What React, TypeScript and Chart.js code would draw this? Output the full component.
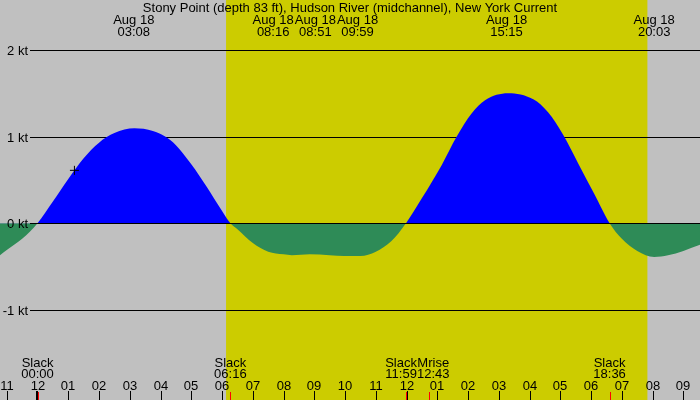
import React, { useEffect, useRef } from "react";
import { Chart, registerables } from "chart.js";

Chart.register(...registerables);

const title = "Stony Point (depth 83 ft), Hudson River (midchannel), New York Current";

// hours from midnight, Aug 18
const hours = [-1.22, -1.0, -0.5, 0, 0.5, 1.0, 1.5, 2.0, 2.5, 3.15, 3.75, 4.15, 4.5, 5.0, 5.5, 6.0, 6.27, 6.5, 7.0, 7.5, 8.0, 8.27, 8.85, 9.5, 9.98, 10.5, 11.0, 11.5, 11.98, 12.5, 13.14, 13.63, 14.12, 14.55, 15.3, 16.12, 16.6, 17.09, 17.58, 18.1, 18.6, 19.0, 19.5, 20.05, 20.5, 21.0, 21.54];
const knots = [-0.37, -0.31, -0.18, 0, 0.25, 0.51, 0.75, 0.93, 1.04, 1.095, 1.065, 1.0, 0.9, 0.68, 0.42, 0.14, 0, -0.07, -0.23, -0.33, -0.36, -0.37, -0.36, -0.37, -0.38, -0.38, -0.33, -0.21, 0, 0.29, 0.67, 1.0, 1.27, 1.42, 1.5, 1.43, 1.28, 1.02, 0.69, 0.34, 0, -0.18, -0.32, -0.39, -0.37, -0.32, -0.25];

const daylight = [6.13, 19.83];

const tickHours = [-1, 0, 1, 2, 3, 4, 5, 6, 7, 8, 9, 10, 11, 12, 13, 14, 15, 16, 17, 18, 19, 20, 21];
const tickLabels = ["11", "12", "01", "02", "03", "04", "05", "06", "07", "08", "09", "10", "11", "12", "01", "02", "03", "04", "05", "06", "07", "08", "09"];

const levelValues = [2, 1, 0, -1];
const levelLabels = ["2 kt", "1 kt", "0 kt", "-1 kt"];

// max flood / ebb labels along the top
const peakHours = [3.13, 8.27, 8.85, 9.98, 15.25, 20.05];
const peakDates = ["Aug 18", "Aug 18", "Aug 18", "Aug 18", "Aug 18", "Aug 18"];
const peakClock = ["03:08", "08:16", "08:51", "09:59", "15:15", "20:03"];

// slack and moonrise along the bottom
const eventHours = [0, 6.27, 11.98, 12.72, 18.6];
const eventNames = ["Slack", "Slack", "Slack", "Mrise", "Slack"];
const eventClock = ["00:00", "06:16", "11:59", "12:43", "18:36"];

const nowHour = [1.2];
const nowKnots = [0.61];

const FONT = "13px 'Liberation Sans', Arial, sans-serif";

// push overlapping labels apart, keeping each cluster centred on its times
function spread(centers: number[], widths: number[], gap: number) {
  const order = centers.map((_, i) => i).sort((a, b) => centers[a] - centers[b]);
  const groups = order.map((i) => [i]);
  const bounds = (g: number[]) => {
    const w = g.reduce((s, i) => s + widths[i] + gap, 0);
    const mid = g.reduce((s, i) => s + centers[i], 0) / g.length;
    return { left: mid - w / 2, right: mid + w / 2 };
  };
  let merged = true;
  while (merged) {
    merged = false;
    for (let k = 0; k < groups.length - 1; k++) {
      if (bounds(groups[k]).right > bounds(groups[k + 1]).left) {
        groups.splice(k, 2, groups[k].concat(groups[k + 1]));
        merged = true;
        break;
      }
    }
  }
  const out: number[] = new Array(centers.length);
  groups.forEach((g) => {
    let pos = bounds(g).left;
    g.forEach((i) => {
      out[i] = pos + (widths[i] + gap) / 2;
      pos += widths[i] + gap;
    });
  });
  return out;
}

const tidePlugin = {
  id: "tide",
  beforeDatasetsDraw(chart: any) {
    const { ctx, width, height } = chart;
    const x = chart.scales.x;
    const y = chart.scales.y;
    ctx.save();
    ctx.fillStyle = "#c0c0c0";
    ctx.fillRect(0, 0, width, height);
    const d0 = x.getPixelForValue(daylight[0]);
    const d1 = x.getPixelForValue(daylight[1]);
    ctx.fillStyle = "#cccc00";
    ctx.fillRect(d0, 0, d1 - d0, height);
    ctx.strokeStyle = "#000";
    ctx.lineWidth = 1;
    levelValues.forEach((v) => {
      if (v === 0) return;
      const py = Math.round(y.getPixelForValue(v)) + 0.5;
      ctx.beginPath();
      ctx.moveTo(30, py);
      ctx.lineTo(width, py);
      ctx.stroke();
    });
    ctx.restore();
  },
  afterDatasetsDraw(chart: any) {
    const { ctx, width, height } = chart;
    const x = chart.scales.x;
    const y = chart.scales.y;
    ctx.save();
    ctx.strokeStyle = "#000";
    ctx.lineWidth = 1;
    const zy = Math.round(y.getPixelForValue(0)) + 0.5;
    ctx.beginPath();
    ctx.moveTo(30, zy);
    ctx.lineTo(width, zy);
    ctx.stroke();

    ctx.font = FONT;
    ctx.fillStyle = "#000";
    ctx.textAlign = "right";
    ctx.textBaseline = "alphabetic";
    levelValues.forEach((v, i) => {
      ctx.fillText(levelLabels[i], 28, Math.round(y.getPixelForValue(v)) + 5);
    });

    ctx.textAlign = "center";
    ctx.fillText(title, width / 2, 12);

    const peakW = peakHours.map((_, i) => Math.max(ctx.measureText(peakDates[i]).width, ctx.measureText(peakClock[i]).width));
    const peakX = spread(peakHours.map((h) => x.getPixelForValue(h)), peakW, 1);
    peakHours.forEach((_, i) => {
      ctx.fillText(peakDates[i], peakX[i], 24);
      ctx.fillText(peakClock[i], peakX[i], 36);
    });

    const eventW = eventHours.map((_, i) => Math.max(ctx.measureText(eventNames[i]).width, ctx.measureText(eventClock[i]).width));
    const eventX = spread(eventHours.map((h) => x.getPixelForValue(h)), eventW, 0);
    eventHours.forEach((_, i) => {
      ctx.fillText(eventNames[i], eventX[i], 367);
      ctx.fillText(eventClock[i], eventX[i], 378);
    });

    tickHours.forEach((h, i) => {
      const px = Math.round(x.getPixelForValue(h));
      ctx.fillText(tickLabels[i], px, 390);
      ctx.beginPath();
      if (h === 0) {
        ctx.lineWidth = 2;
        ctx.moveTo(px - 1, 391);
        ctx.lineTo(px - 1, height);
      } else {
        ctx.lineWidth = 1;
        ctx.moveTo(px + 0.5, 391);
        ctx.lineTo(px + 0.5, height);
      }
      ctx.stroke();
    });

    ctx.strokeStyle = "#ff0000";
    ctx.lineWidth = 1;
    eventHours.forEach((h) => {
      const px = Math.round(x.getPixelForValue(h)) + 0.5;
      ctx.beginPath();
      ctx.moveTo(px, 392);
      ctx.lineTo(px, height);
      ctx.stroke();
    });
    ctx.restore();
  },
};

export default function App() {
  const canvasRef = useRef<HTMLCanvasElement>(null);

  useEffect(() => {
    document.body.style.margin = "0";
    if (!canvasRef.current) return;
    const chart = new Chart(canvasRef.current, {
      type: "line",
      data: {
        datasets: [
          {
            type: "scatter",
            data: nowHour.map((h, i) => ({ x: h, y: nowKnots[i] })),
            pointStyle: "cross",
            pointRadius: 4.5,
            borderColor: "#000",
            backgroundColor: "#000",
            borderWidth: 1,
            order: 0,
          },
          {
            data: hours.map((h, i) => ({ x: h, y: knots[i] })),
            borderWidth: 0,
            borderColor: "rgba(0,0,0,0)",
            pointRadius: 0,
            cubicInterpolationMode: "monotone",
            fill: { target: { value: 0 }, above: "#0000ff", below: "#2e8b57" },
            order: 1,
          },
        ],
      } as any,
      options: {
        animation: false,
        responsive: false,
        events: [],
        layout: { padding: 0, autoPadding: false },
        scales: {
          x: { type: "linear", min: -1.22, max: 21.54, display: false },
          y: { type: "linear", min: -2.042, max: 2.577, display: false },
        },
        plugins: {
          legend: { display: false },
          tooltip: { enabled: false },
        },
      },
      plugins: [tidePlugin],
    });
    return () => chart.destroy();
  }, []);

  return (
    <div style={{ width: 700, height: 400 }}>
      <canvas ref={canvasRef} width={700} height={400} style={{ display: "block" }} />
    </div>
  );
}
